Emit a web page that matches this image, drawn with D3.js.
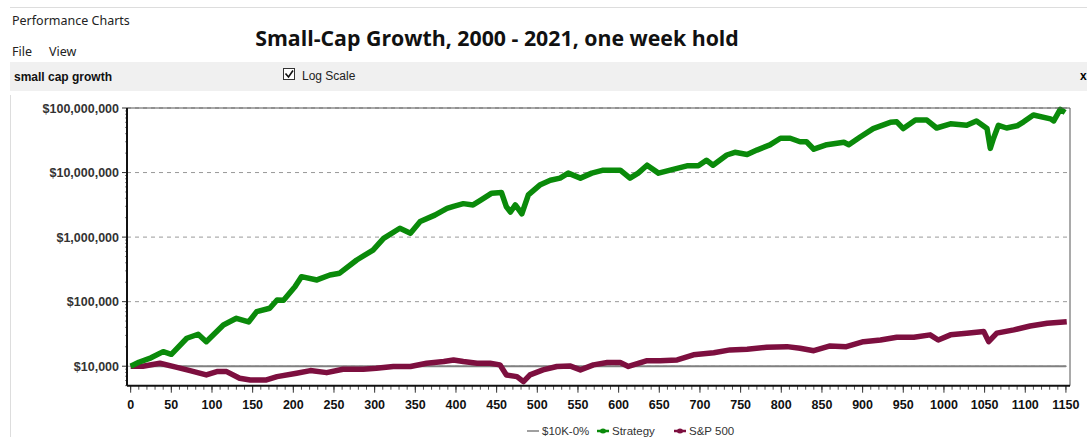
<!DOCTYPE html>
<html>
<head>
<meta charset="utf-8">
<script src="https://cdn.jsdelivr.net/npm/d3@7"></script>
<style>
  body { margin: 0; background: #fff; }
  svg { display: block; }
</style>
</head>
<body>
<div id="chart"></div>
<script>
// week index and equity values
var stratWeeks = [0, 10, 25, 40, 50, 69, 83, 93, 114, 130, 145, 155, 171, 180, 188, 202, 210, 229, 245, 257, 278, 298, 311, 331, 344, 356, 374, 389, 397, 409, 421, 430, 444, 456, 462, 467, 473, 481, 489, 503, 516, 528, 538, 553, 567, 581, 602, 614, 624, 635, 649, 667, 684, 698, 708, 716, 733, 743, 758, 770, 786, 799, 811, 823, 831, 840, 856, 877, 883, 897, 913, 934, 942, 950, 965, 979, 991, 1008, 1028, 1040, 1053, 1057, 1061, 1067, 1077, 1090, 1098, 1110, 1131, 1135, 1143, 1149];
var stratValues = [10000, 11500, 13500, 16800, 15300, 27100, 31300, 24000, 43600, 55300, 48500, 70000, 79000, 106000, 105000, 170000, 244000, 217000, 259000, 276000, 442000, 629000, 956000, 1370000, 1150000, 1740000, 2190000, 2790000, 3000000, 3300000, 3150000, 3700000, 4800000, 4900000, 2950000, 2450000, 3150000, 2300000, 4500000, 6400000, 7600000, 8200000, 9800000, 8200000, 9800000, 10900000, 10900000, 8200000, 9800000, 13000000, 9800000, 11200000, 12700000, 12700000, 15500000, 13000000, 18700000, 20600000, 19000000, 22300000, 26800000, 34000000, 34000000, 30000000, 30000000, 23000000, 27000000, 29500000, 27000000, 35600000, 48000000, 60000000, 61000000, 48000000, 65000000, 65000000, 49000000, 57000000, 54000000, 63000000, 48000000, 23700000, 34000000, 54000000, 49000000, 53000000, 61000000, 78000000, 68000000, 63000000, 95000000, 85000000];

var spWeeks = [0, 15, 36, 57, 73, 93, 106, 118, 134, 147, 167, 180, 204, 221, 241, 261, 286, 302, 323, 344, 364, 385, 397, 409, 426, 442, 454, 462, 475, 483, 491, 507, 524, 540, 553, 569, 586, 602, 612, 635, 651, 672, 692, 717, 737, 758, 782, 807, 823, 840, 860, 880, 901, 922, 942, 963, 983, 993, 1008, 1028, 1049, 1055, 1065, 1086, 1106, 1127, 1151];
var spValues = [10000, 10000, 11100, 9600, 8550, 7330, 8250, 8250, 6520, 6130, 6130, 6900, 7800, 8550, 7950, 8990, 9000, 9300, 9900, 9900, 11100, 11800, 12500, 11800, 11100, 11100, 10500, 7330, 6900, 5780, 7330, 8770, 9900, 10100, 8770, 10500, 11400, 11400, 9900, 12200, 12200, 12500, 15000, 16200, 17900, 18300, 19700, 20100, 19000, 17400, 20600, 20100, 24000, 25500, 28100, 28100, 30600, 25500, 30600, 32500, 34400, 24000, 32500, 36500, 42000, 46300, 49000];

var flatWeeks = [0, 1150];
var flatValues = [10000, 10000];

var yTicks = [10000, 100000, 1000000, 10000000, 100000000];
var xTicks = d3.range(0, 1151, 50);
var legendNames = ["$10K-0%", "Strategy", "S&P 500"];
var legendColors = ["#808080", "#0a8a0a", "#7d0f3f"];

var W = 1087, H = 437;
var svg = d3.select("#chart").append("svg").attr("width", W).attr("height", H)
  .style("font-family", "'Liberation Sans', Arial, sans-serif");

// window chrome
svg.append("line").attr("x1", 10).attr("x2", W).attr("y1", 7.5).attr("y2", 7.5).attr("stroke", "#ddd");
svg.append("line").attr("x1", 10.5).attr("x2", 10.5).attr("y1", 95).attr("y2", H).attr("stroke", "#ddd");
svg.append("text").attr("x", 12).attr("y", 25).style("font-family", "'Noto Sans', sans-serif")
  .style("font-size", "12.5px").attr("fill", "#222").text("Performance Charts");
svg.append("text").attr("x", 12).attr("y", 56).style("font-family", "'Noto Sans', sans-serif")
  .style("font-size", "12.5px").attr("fill", "#222").text("File");
svg.append("text").attr("x", 49).attr("y", 56).style("font-family", "'Noto Sans', sans-serif")
  .style("font-size", "12.5px").attr("fill", "#222").text("View");
svg.append("rect").attr("x", 10).attr("y", 62).attr("width", W - 10).attr("height", 29).attr("fill", "#f0f0f0");
svg.append("text").attr("x", 14).attr("y", 81).style("font-weight", "bold")
  .style("font-size", "12px").attr("fill", "#111").text("small cap growth");
svg.append("rect").attr("x", 283.5).attr("y", 68.5).attr("width", 11).attr("height", 11)
  .attr("fill", "#fff").attr("stroke", "#333");
svg.append("path").attr("d", "M285.5,73.5 L288.5,77 L293,70.5").attr("fill", "none").attr("stroke", "#111").attr("stroke-width", 1.6);
svg.append("text").attr("x", 302).attr("y", 80).style("font-size", "12px").attr("fill", "#222").text("Log Scale");
svg.append("text").attr("x", 1080).attr("y", 80).style("font-size", "12px").style("font-weight", "bold").text("x");

svg.append("text").attr("x", 497).attr("y", 46).attr("text-anchor", "middle")
  .style("font-family", "'Open Sans', sans-serif").style("font-weight", "bold")
  .style("font-size", "21.3px").attr("fill", "#111")
  .text("Small-Cap Growth, 2000 - 2021, one week hold");

// plot area
var pLeft = 127, pRight = 1070, pTop = 108, pBottom = 385.7;
var x = d3.scaleLinear().domain([-4.5, 1155]).range([pLeft, pRight]);
var y = d3.scaleLog().domain([4990, 100000000]).range([pBottom, pTop]);

// grid
svg.append("g").selectAll("line").data(yTicks).enter().append("line")
  .attr("x1", pLeft).attr("x2", pRight)
  .attr("y1", function(d) { return y(d); }).attr("y2", function(d) { return y(d); })
  .attr("stroke", "#999").attr("stroke-dasharray", "4,4");

// y axis
var minorY = [];
[1000, 10000, 100000, 1000000, 10000000].forEach(function(b) {
  for (var k = 2; k < 10; k++) { if (b * k >= 4990 && b * k <= 1e8) minorY.push(b * k); }
});
svg.append("g").selectAll("line").data(minorY).enter().append("line")
  .attr("x1", pLeft - 2).attr("x2", pLeft)
  .attr("y1", function(d) { return y(d); }).attr("y2", function(d) { return y(d); })
  .attr("stroke", "#888");
svg.append("g").selectAll("line").data(yTicks).enter().append("line")
  .attr("x1", pLeft - 5).attr("x2", pLeft)
  .attr("y1", function(d) { return y(d); }).attr("y2", function(d) { return y(d); })
  .attr("stroke", "#333");
svg.append("g").selectAll("text").data(yTicks).enter().append("text")
  .attr("x", pLeft - 8).attr("y", function(d) { return y(d) + 4.5; })
  .attr("text-anchor", "end").style("font-size", "12.5px").style("font-weight", "bold").attr("fill", "#333")
  .text(function(d) { return "$" + d3.format(",")(d); });

// x axis
var minorX = d3.range(0, 1151, 10);
svg.append("g").selectAll("line").data(minorX).enter().append("line")
  .attr("x1", function(d) { return x(d); }).attr("x2", function(d) { return x(d); })
  .attr("y1", pBottom).attr("y2", pBottom + 4).attr("stroke", "#555");
svg.append("g").selectAll("line").data(xTicks).enter().append("line")
  .attr("x1", function(d) { return x(d); }).attr("x2", function(d) { return x(d); })
  .attr("y1", pBottom).attr("y2", pBottom + 7).attr("stroke", "#333");
svg.append("g").selectAll("text").data(xTicks).enter().append("text")
  .attr("x", function(d) { return x(d); }).attr("y", 409)
  .attr("text-anchor", "middle").style("font-size", "12.5px").style("font-weight", "bold").attr("fill", "#111")
  .text(function(d) { return d; });

// lines
var line = d3.line()
  .x(function(d) { return x(d[0]); })
  .y(function(d) { return y(d[1]); });

function pairs(a, b) { return a.map(function(v, i) { return [v, b[i]]; }); }

svg.append("path").datum(pairs(flatWeeks, flatValues)).attr("d", line)
  .attr("fill", "none").attr("stroke", legendColors[0]).attr("stroke-width", 2);
svg.append("path").datum(pairs(spWeeks, spValues)).attr("d", line)
  .attr("fill", "none").attr("stroke", legendColors[2]).attr("stroke-width", 5.5).attr("stroke-linejoin", "round");
svg.append("path").datum(pairs(stratWeeks, stratValues)).attr("d", line)
  .attr("fill", "none").attr("stroke", legendColors[1]).attr("stroke-width", 5.5).attr("stroke-linejoin", "round");

// frame
svg.append("line").attr("x1", pLeft).attr("x2", pRight).attr("y1", pTop).attr("y2", pTop).attr("stroke", "#555");
svg.append("line").attr("x1", pRight).attr("x2", pRight).attr("y1", pTop).attr("y2", pBottom).attr("stroke", "#555");
svg.append("line").attr("x1", pLeft).attr("x2", pLeft).attr("y1", pTop).attr("y2", pBottom).attr("stroke", "#111").attr("stroke-width", 2);
svg.append("line").attr("x1", pLeft).attr("x2", pRight).attr("y1", pBottom).attr("y2", pBottom).attr("stroke", "#111").attr("stroke-width", 2);

// legend
var legX = [527, 597, 674];
var leg = svg.append("g").selectAll("g").data(legendNames).enter().append("g")
  .attr("transform", function(d, i) { return "translate(" + legX[i] + ",435)"; });
leg.append("line").attr("x1", 0).attr("x2", 12).attr("y1", -4).attr("y2", -4)
  .attr("stroke", function(d, i) { return legendColors[i]; }).attr("stroke-width", function(d, i) { return i ? 2.5 : 1.5; });
leg.filter(function(d, i) { return i > 0; }).append("ellipse").attr("cx", 6).attr("cy", -4).attr("rx", 3).attr("ry", 2.5)
  .attr("fill", function(d) { return legendColors[legendNames.indexOf(d)]; });
leg.append("text").attr("x", 15).attr("y", 0).style("font-size", "11.5px").attr("fill", "#333").text(function(d) { return d; });
</script>
</body>
</html>
